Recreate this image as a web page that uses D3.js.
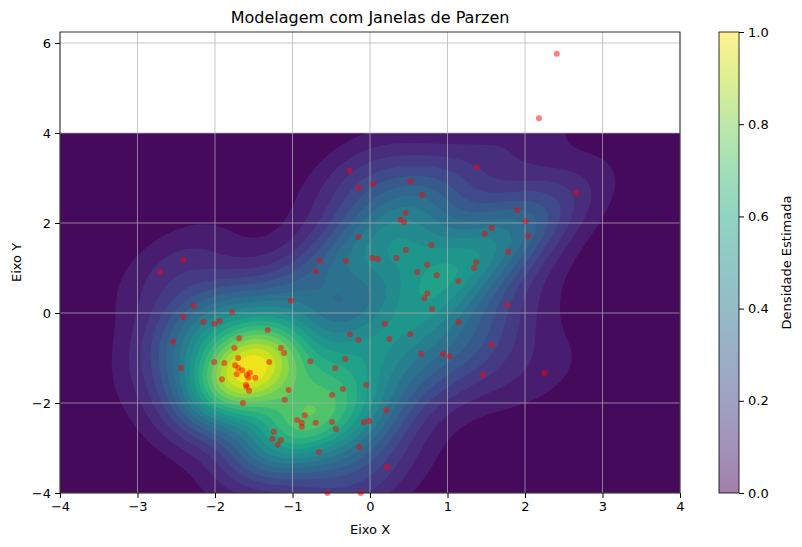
<!DOCTYPE html>
<html><head><meta charset="utf-8">
<script src="https://cdn.jsdelivr.net/npm/d3@7"></script>
<style>body{margin:0;background:#fff;font-family:"DejaVu Sans",sans-serif;}</style>
</head><body><div id="chart"></div>
<script>
var xs = [-0.15,-2.41,-2.71,-0.65,-0.31,-0.70,0.03,0.10,-1.02,-2.28,-1.78,-2.41,-2.15,-2.01,-1.94,-1.32,0.19,0.25,-2.54,-1.69,
  -0.26,-0.15,-1.75,-1.15,-1.11,-1.70,-0.32,-2.01,-1.88,-1.30,-0.77,-2.44,-1.74,-1.70,-1.65,-0.45,-1.59,-1.55,-1.57,-1.48,
  -1.72,-1.91,-1.60,-1.59,-1.56,-1.05,-0.05,-0.35,-0.49,-1.10,-1.64,0.21,-0.84,-0.94,-0.88,-0.88,-0.70,-0.49,-0.08,-0.01,
  -0.44,-1.24,-1.26,-1.15,-1.19,-0.66,-0.14,0.22,-0.55,-0.12,2.41,2.18,-0.26,-0.15,0.04,0.52,0.67,1.38,2.66,0.46,
  0.39,0.44,1.90,2.01,1.57,1.48,2.04,0.79,0.46,1.78,0.34,0.74,0.61,0.86,1.37,1.34,1.14,0.74,0.70,0.80,
  1.77,1.14,0.52,1.57,0.66,0.94,1.03,1.46,2.25];
var ys = [1.69,1.18,0.91,1.16,1.16,0.93,1.22,1.20,0.27,0.16,0.02,-0.09,-0.20,-0.24,-0.18,-0.38,-0.24,-0.58,-0.64,-0.56,
  -0.47,-0.60,-0.78,-0.78,-0.89,-1.00,-1.02,-1.09,-1.11,-1.09,-1.07,-1.22,-1.16,-1.22,-1.27,-1.22,-1.38,-1.33,-1.44,-1.44,
  -1.36,-1.47,-1.60,-1.64,-1.73,-1.71,-1.60,-1.69,-1.82,-1.93,-2.00,-2.16,-2.27,-2.38,-2.44,-2.53,-2.44,-2.42,-2.42,-2.40,
  -2.58,-2.64,-2.80,-2.82,-2.93,-3.09,-2.98,-3.42,-4.00,-4.00,5.76,4.33,3.16,2.78,2.87,2.93,2.62,3.24,2.67,2.22,
  2.07,2.02,2.29,2.04,1.89,1.76,1.71,1.51,1.40,1.36,1.22,1.07,0.91,0.84,1.13,1.00,0.71,0.44,0.33,0.09,
  0.18,-0.20,-0.47,-0.71,-0.91,-0.91,-0.96,-1.38,-1.33];
var xTicks = [-4,-3,-2,-1,0,1,2,3,4];
var yTicks = [-4,-2,0,2,4,6];
var cbTicks = [0,0.2,0.4,0.6,0.8,1.0];

var W = 802, H = 547, L = 60, R = 680, T = 32, B = 493;
var svg = d3.select('#chart').append('svg').attr('width', W).attr('height', H);
var x = d3.scaleLinear().domain([-4, 4]).range([L, R]);
var y = d3.scaleLinear().domain([-4, 6.244]).range([B, T]);

// gaussian kde (scott factor, full covariance)
var n = xs.length, mx = d3.mean(xs), my = d3.mean(ys);
var sxx = 0, syy = 0, sxy = 0;
for (var i = 0; i < n; i++) { sxx += (xs[i]-mx)*(xs[i]-mx); syy += (ys[i]-my)*(ys[i]-my); sxy += (xs[i]-mx)*(ys[i]-my); }
var f = Math.pow(n, -1/6) * 0.9, f2 = f*f;
var a = sxx/(n-1)*f2, c = syy/(n-1)*f2, b = sxy/(n-1)*f2, det = a*c - b*b;
var ia = c/det, ic = a/det, ib = -b/det;
var NX = 200, NY = 200, grid = new Array(NX*NY);
for (var j = 0; j < NY; j++) for (var k = 0; k < NX; k++) {
  var gx = -4 + 8*k/(NX-1), gy = 4 - 8*j/(NY-1), s = 0;
  for (var i = 0; i < n; i++) { var dx = gx-xs[i], dy = gy-ys[i]; s += Math.exp(-0.5*(ia*dx*dx + 2*ib*dx*dy + ic*dy*dy)); }
  grid[j*NX+k] = s;
}
var gmax = d3.max(grid);
grid = grid.map(function(v){ return v/gmax; });
var levels = d3.range(0, 1.0001, 0.05);
var contours = d3.contours().size([NX, NY]).thresholds(levels.slice(0, -1))(grid);
var proj = d3.geoTransform({point: function(px, py){
  this.stream.point(x(-4 + 8*px/(NX-1)), y(4 - 8*py/(NY-1)));
}});
var path = d3.geoPath(proj);
svg.append('clipPath').attr('id', 'cl').append('rect')
  .attr('x', L).attr('y', y(4)).attr('width', R-L).attr('height', B-y(4));
svg.append('g').attr('clip-path', 'url(#cl)').selectAll('path').data(contours).enter().append('path')
  .attr('d', path).attr('fill', function(d){ return d3.interpolateViridis(Math.min(1, d.value + 0.025)); });

// grid
var g = svg.append('g').attr('stroke', '#b0b0b0').attr('stroke-width', 0.8).attr('opacity', 0.9);
xTicks.forEach(function(t){ g.append('line').attr('x1', x(t)).attr('x2', x(t)).attr('y1', T).attr('y2', B); });
yTicks.forEach(function(t){ g.append('line').attr('x1', L).attr('x2', R).attr('y1', y(t)).attr('y2', y(t)); });

// points
svg.append('g').selectAll('circle').data(xs).enter().append('circle')
  .attr('cx', function(d){ return x(d); }).attr('cy', function(d, i){ return y(ys[i]); })
  .attr('r', 3).attr('fill', 'red').attr('opacity', 0.5);

svg.append('rect').attr('x', L).attr('y', T).attr('width', R-L).attr('height', B-T)
  .attr('fill', 'none').attr('stroke', '#000').attr('stroke-width', 0.8);
var ax = svg.append('g').attr('transform', 'translate(0,' + B + ')').call(d3.axisBottom(x).tickValues(xTicks).tickSize(5).tickPadding(4));
var ay = svg.append('g').attr('transform', 'translate(' + L + ',0)').call(d3.axisLeft(y).tickValues(yTicks).tickSize(5).tickPadding(4));
[ax, ay].forEach(function(s){
  s.select('.domain').remove();
  s.selectAll('text').attr('font-size', 13).attr('font-family', 'DejaVu Sans').attr('fill', '#000')
    .text(function(d){ return d < 0 ? '\u2212' + (-d) : d; });
});

svg.append('text').attr('x', (L+R)/2).attr('y', 23).attr('text-anchor', 'middle').attr('font-size', 16).text('Modelagem com Janelas de Parzen');
svg.append('text').attr('x', (L+R)/2).attr('y', 534).attr('text-anchor', 'middle').attr('font-size', 13).text('Eixo X');
svg.append('text').attr('transform', 'translate(21,' + (T+B)/2 + ') rotate(-90)').attr('text-anchor', 'middle').attr('font-size', 13).text('Eixo Y');

// colorbar
var cx0 = 719, cw = 20;
var cy = d3.scaleLinear().domain([0, 1]).range([B, T]);
var lg = svg.append('defs').append('linearGradient').attr('id', 'vg').attr('x1', 0).attr('x2', 0).attr('y1', 1).attr('y2', 0);
d3.range(0, 1.001, 0.1).forEach(function(t){ lg.append('stop').attr('offset', t).attr('stop-color', d3.interpolateViridis(t)); });
svg.append('rect').attr('x', cx0).attr('y', T).attr('width', cw).attr('height', B-T).attr('fill', 'url(#vg)').attr('opacity', 0.5);
svg.append('rect').attr('x', cx0).attr('y', T).attr('width', cw).attr('height', B-T).attr('fill', 'none').attr('stroke', '#000').attr('stroke-width', 0.8);
var ac = svg.append('g').attr('transform', 'translate(' + (cx0+cw) + ',0)').call(d3.axisRight(cy).tickValues(cbTicks).tickSize(5).tickPadding(4).tickFormat(d3.format('.1f')));
ac.select('.domain').remove();
ac.selectAll('text').attr('font-size', 13).attr('font-family', 'DejaVu Sans');
svg.append('text').attr('transform', 'translate(791,' + (T+B)/2 + ') rotate(-90)').attr('text-anchor', 'middle').attr('font-size', 13).text('Densidade Estimada');
</script></body></html>
